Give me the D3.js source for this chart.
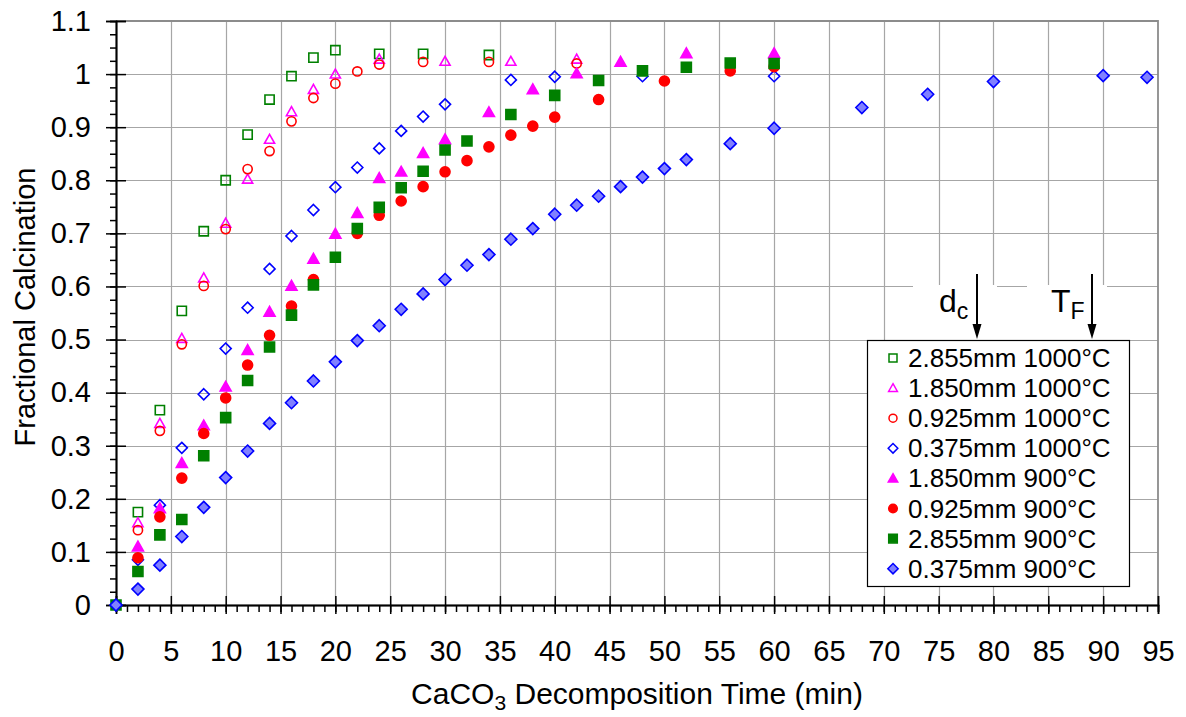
<!DOCTYPE html>
<html>
<head>
<meta charset="utf-8">
<script src="https://cdn.jsdelivr.net/npm/d3@7"></script>
<style>
  body { margin: 0; background: #fff; }
  svg { display: block; font-family: "Liberation Sans", Arial, sans-serif; }
</style>
</head>
<body>
<svg id="chart" width="1186" height="717"></svg>
<script>
// decomposition time (min) and fractional calcination, one pair of arrays per run
const t2855_1000 = [2, 4, 6, 8, 10, 12, 14, 16, 18, 20, 24, 28, 34];
const v2855_1000 = [0.175, 0.367, 0.554, 0.704, 0.800, 0.886, 0.952, 0.996, 1.031, 1.045, 1.038, 1.038, 1.036];

const t1850_1000 = [2, 4, 6, 8, 10, 12, 14, 16, 18, 20, 24, 30, 36, 42];
const v1850_1000 = [0.155, 0.342, 0.502, 0.616, 0.719, 0.802, 0.877, 0.929, 0.971, 1.000, 1.028, 1.024, 1.024, 1.028];

const t0925_1000 = [2, 4, 6, 8, 10, 12, 14, 16, 18, 20, 22, 24, 28, 34, 42];
const v0925_1000 = [0.141, 0.328, 0.491, 0.601, 0.708, 0.821, 0.855, 0.911, 0.955, 0.982, 1.005, 1.018, 1.023, 1.023, 1.020];

const t0375_1000 = [2, 4, 6, 8, 10, 12, 14, 16, 18, 20, 22, 24, 26, 28, 30, 36, 40, 48, 60];
const v0375_1000 = [0.085, 0.188, 0.296, 0.397, 0.483, 0.560, 0.633, 0.695, 0.744, 0.787, 0.824, 0.860, 0.893, 0.920, 0.943, 0.989, 0.995, 0.996, 0.996];

const t1850_900 = [2, 4, 6, 8, 10, 12, 14, 16, 18, 20, 22, 24, 26, 28, 30, 34, 38, 42, 46, 52, 60];
const v1850_900 = [0.110, 0.182, 0.267, 0.338, 0.411, 0.480, 0.552, 0.601, 0.652, 0.699, 0.738, 0.804, 0.816, 0.851, 0.877, 0.928, 0.971, 1.001, 1.023, 1.039, 1.039];

const t0925_900 = [2, 4, 6, 8, 10, 12, 14, 16, 18, 22, 24, 26, 28, 30, 32, 34, 36, 38, 40, 44, 50, 56, 60];
const v0925_900 = [0.089, 0.166, 0.239, 0.323, 0.390, 0.452, 0.508, 0.563, 0.613, 0.700, 0.734, 0.761, 0.788, 0.816, 0.837, 0.863, 0.885, 0.902, 0.919, 0.952, 0.987, 1.006, 1.014];

const t2855_900 = [0, 2, 4, 6, 8, 10, 12, 14, 16, 18, 20, 22, 24, 26, 28, 30, 32, 36, 40, 44, 48, 52, 56, 60];
const v2855_900 = [0, 0.063, 0.132, 0.161, 0.281, 0.353, 0.423, 0.486, 0.546, 0.603, 0.655, 0.709, 0.749, 0.786, 0.817, 0.857, 0.874, 0.924, 0.960, 0.988, 1.006, 1.013, 1.021, 1.020];

const t0375_900 = [0, 2, 4, 6, 8, 10, 12, 14, 16, 18, 20, 22, 24, 26, 28, 30, 32, 34, 36, 38, 40, 42, 44, 46, 48, 50, 52, 56, 60, 68, 74, 80, 90, 94];
const v0375_900 = [0, 0.030, 0.075, 0.129, 0.184, 0.240, 0.290, 0.342, 0.381, 0.422, 0.458, 0.498, 0.526, 0.557, 0.586, 0.613, 0.640, 0.660, 0.689, 0.709, 0.736, 0.753, 0.770, 0.788, 0.806, 0.822, 0.839, 0.869, 0.898, 0.937, 0.962, 0.986, 0.997, 0.994];

const seriesNames = ["2.855mm 1000°C", "1.850mm 1000°C", "0.925mm 1000°C", "0.375mm 1000°C",
                     "1.850mm 900°C", "0.925mm 900°C", "2.855mm 900°C", "0.375mm 900°C"];

const xTicks = d3.range(0, 96, 5);
const yTicks = d3.range(0, 1.101, 0.1);

// marker shapes (size arg = half width)
const sq = { draw(c, s) { c.rect(-s, -s, 2 * s, 2 * s); } };
const circ = { draw(c, s) { c.moveTo(s, 0); c.arc(0, 0, s, 0, 2 * Math.PI); } };
const tri = { draw(c, s) { c.moveTo(0, -s * 1.1); c.lineTo(s * 1.1, s * 0.85); c.lineTo(-s * 1.1, s * 0.85); c.closePath(); } };
const dia = { draw(c, s) { c.moveTo(0, -s * 1.2); c.lineTo(s * 1.2, 0); c.lineTo(0, s * 1.2); c.lineTo(-s * 1.2, 0); c.closePath(); } };

const series = [
  { t: t2855_1000, v: v2855_1000, shape: sq,   fill: "none",    stroke: "#008000" },
  { t: t1850_1000, v: v1850_1000, shape: tri,  fill: "none",    stroke: "#ff00ff" },
  { t: t0925_1000, v: v0925_1000, shape: circ, fill: "none",    stroke: "#ff0000" },
  { t: t0375_1000, v: v0375_1000, shape: dia,  fill: "none",    stroke: "#0000ff" },
  { t: t1850_900,  v: v1850_900,  shape: tri,  fill: "#ff00ff", stroke: "#ff00ff" },
  { t: t0925_900,  v: v0925_900,  shape: circ, fill: "#ff0000", stroke: "#ff0000" },
  { t: t2855_900,  v: v2855_900,  shape: sq,   fill: "#008000", stroke: "#008000" },
  { t: t0375_900,  v: v0375_900,  shape: dia,  fill: "#8080ff", stroke: "#0000ff" }
];
series.forEach((s, i) => { s.name = seriesNames[i]; });

const svg = d3.select("#chart");
const x = d3.scaleLinear().domain([0, 95]).range([116, 1158]);
const y = d3.scaleLinear().domain([0, 1.1]).range([605, 21]);

// grid
const grid = svg.append("g").attr("stroke", "#a6a6a6").attr("stroke-width", 1.2);
grid.selectAll(".vg").data(xTicks.slice(1, -1)).enter().append("line")
  .attr("x1", d => Math.round(x(d)) + 0.5).attr("x2", d => Math.round(x(d)) + 0.5)
  .attr("y1", y(0)).attr("y2", y(1.1));
grid.selectAll(".hg").data(yTicks.slice(1, -1)).enter().append("line")
  .attr("y1", d => Math.round(y(d)) + 0.5).attr("y2", d => Math.round(y(d)) + 0.5)
  .attr("x1", x(0)).attr("x2", x(95));

// top / right frame
svg.append("path")
  .attr("d", `M${x(0)},${y(1.1)}H${x(95)}V${y(0)}`)
  .attr("fill", "none").attr("stroke", "#8c8c8c").attr("stroke-width", 1.8);

// white patches behind the dc / TF labels, then the labels and arrows
svg.append("rect").attr("x", 913).attr("y", 285).attr("width", 84).attr("height", 56).attr("fill", "#fff");
svg.append("rect").attr("x", 1027).attr("y", 285).attr("width", 80).attr("height", 56).attr("fill", "#fff");

const note = svg.append("g").attr("font-size", 32).attr("fill", "#000");
const dc = note.append("text").attr("x", 939).attr("y", 312);
dc.append("tspan").text("d");
dc.append("tspan").attr("font-size", 23).attr("dy", 7).text("c");
const tf = note.append("text").attr("x", 1051).attr("y", 312);
tf.append("tspan").text("T");
tf.append("tspan").attr("font-size", 23).attr("dy", 7).text("F");

[977, 1092].forEach(ax => {
  svg.append("line").attr("x1", ax).attr("x2", ax).attr("y1", 274).attr("y2", 328)
    .attr("stroke", "#000").attr("stroke-width", 2);
  svg.append("path").attr("d", `M${ax - 4.5},${324}L${ax},${339}L${ax + 4.5},${324}Z`).attr("fill", "#000");
});

// axes
const yAxisL = d3.axisLeft(y).tickValues(yTicks).tickSize(10).tickPadding(15)
  .tickFormat(d => d3.format("~g")(+d.toFixed(1)));
const yAxisR = d3.axisRight(y).tickValues(yTicks).tickSize(10).tickFormat("");
const yMinor = d3.axisLeft(y).tickValues(d3.range(0, 1.101, 0.025)).tickSize(6).tickFormat("");
const xAxisB = d3.axisBottom(x).tickValues(xTicks).tickSize(9).tickPadding(26);
const xAxisT = d3.axisTop(x).tickValues(xTicks).tickSize(9).tickFormat("");
const xMinor = d3.axisBottom(x).tickValues(d3.range(0, 96, 1)).tickSize(7).tickFormat("");

function styleAxis(g) {
  g.select(".domain").attr("stroke", "#000").attr("stroke-width", 1.5);
  g.selectAll(".tick line").attr("stroke", "#000").attr("stroke-width", 1.5);
  g.selectAll("text").attr("font-size", 29).attr("fill", "#000")
    .attr("font-family", "Liberation Sans, Arial, sans-serif");
}
svg.append("g").attr("transform", `translate(${x(0)},0)`).call(yMinor).call(styleAxis);
svg.append("g").attr("transform", `translate(${x(0)},0)`).call(yAxisR).call(styleAxis);
svg.append("g").attr("transform", `translate(${x(0)},0)`).call(yAxisL).call(styleAxis);
svg.append("g").attr("transform", `translate(0,${y(0)})`).call(xMinor).call(styleAxis);
svg.append("g").attr("transform", `translate(0,${y(0)})`).call(xAxisT).call(styleAxis);
svg.append("g").attr("transform", `translate(0,${y(0)})`).call(xAxisB).call(styleAxis);

// axis titles
const xt = svg.append("text").attr("x", x(47.5)).attr("y", 704).attr("text-anchor", "middle")
  .attr("font-size", 30).attr("fill", "#000");
xt.append("tspan").text("CaCO");
xt.append("tspan").attr("font-size", 21).attr("dy", 6).text("3");
xt.append("tspan").attr("dy", -6).text(" Decomposition Time (min)");

svg.append("text").attr("transform", `translate(35,307) rotate(-90)`)
  .attr("text-anchor", "middle").attr("font-size", 29).attr("fill", "#000")
  .text("Fractional Calcination");

// markers
const sym = d3.symbol();
series.forEach(s => {
  const r = s.fill === "none" ? 4.6 : 5;
  svg.append("g").selectAll("path")
    .data(s.t.map((t, i) => ({ t, v: s.v[i] })))
    .enter().append("path")
    .attr("transform", d => `translate(${x(d.t)},${y(d.v)})`)
    .attr("d", sym.type(s.shape).size(r)())
    .attr("fill", s.fill)
    .attr("stroke", s.stroke)
    .attr("stroke-width", 1.6);
});

// legend
const lg = svg.append("g");
lg.append("rect").attr("x", 867.5).attr("y", 340.5).attr("width", 262).attr("height", 246)
  .attr("fill", "#fff").attr("stroke", "#000").attr("stroke-width", 1.2);
series.forEach((s, i) => {
  const cy = 358 + i * 30.1;
  lg.append("path").attr("transform", `translate(893,${cy})`)
    .attr("d", d3.symbol().type(s.shape).size(s.fill === "none" ? 4 : 4.3)())
    .attr("fill", s.fill).attr("stroke", s.stroke).attr("stroke-width", 1.5);
  lg.append("text").attr("x", 908).attr("y", cy + 9).attr("font-size", 26).attr("fill", "#000")
    .text(s.name);
});
</script>
</body>
</html>
